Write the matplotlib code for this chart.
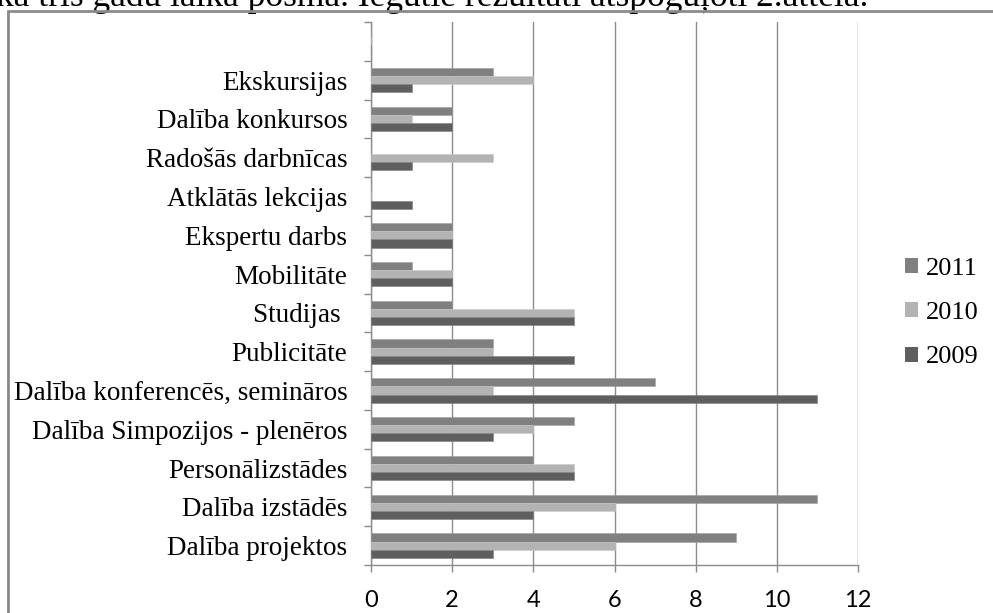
import numpy as np
import matplotlib
matplotlib.use('Agg')
import matplotlib.pyplot as plt
from matplotlib.patches import Rectangle, Patch

# data, listed top to bottom as in the chart (first slot is empty)
categories = ['', 'Ekskursijas', 'Dalība konkursos', 'Radošās darbnīcas', 'Atklātās lekcijas',
              'Ekspertu darbs', 'Mobilitāte', 'Studijas ', 'Publicitāte',
              'Dalība konferencēs, semināros', 'Dalība Simpozijos - plenēros',
              'Personālizstādes', 'Dalība izstādēs', 'Dalība projektos']
v2011 = [0, 3, 2, 0, 0, 2, 1, 2, 3, 7, 5, 4, 11, 9]
v2010 = [0, 4, 1, 3, 0, 2, 2, 5, 3, 3, 4, 5, 6, 6]
v2009 = [0, 1, 2, 1, 1, 2, 2, 5, 5, 11, 3, 5, 4, 3]
years = ['2011', '2010', '2009']
x_ticks = [0, 2, 4, 6, 8, 10, 12]

COLORS = {'2011': '#808080', '2010': '#b3b3b3', '2009': '#5f5f5f'}
GRID = '#8c8c8c'
SERIF = 'Liberation Serif'

W, H = 993, 613
fig = plt.figure(figsize=(W / 100, H / 100), dpi=100)

# outer chart frame (cut by the image edge on right and bottom)
fig.patches.append(Rectangle((8 / W, -0.1), 1.2, 1 - 11 / H + 0.1, transform=fig.transFigure,
                             fill=False, edgecolor='#8a8a8a', linewidth=2))

# cut-off line of document text above the chart
fig.text(-4 / W, 1 - 6 / H, 'ka trīs gadu laika posmā. Iegūtie rezultāti atspoguļoti 2.attēlā.',
         family=SERIF, fontsize=25.5, ha='left', va='baseline', color='black', zorder=0)

ax = fig.add_axes([371 / W, 1 - 565 / H, (858 - 371) / W, (565 - 22) / H])

n = len(categories)
y = np.arange(n)[::-1]  # top category gets the highest position
h = 0.21
ax.barh(y + h, v2011, height=h, color=COLORS['2011'], edgecolor='#a0a0a0', linewidth=0.4, zorder=3)
ax.barh(y, v2010, height=h, color=COLORS['2010'], edgecolor='#c8c8c8', linewidth=0.4, zorder=3)
ax.barh(y - h, v2009, height=h, color=COLORS['2009'], edgecolor='#808080', linewidth=0.4, zorder=3)

ax.set_xlim(0, 12)
ax.set_ylim(-0.5, n - 0.5)
ax.set_xticks(x_ticks)
ax.set_xticklabels([str(t) for t in x_ticks], family='Lato', fontsize=17)
ax.xaxis.grid(True, color=GRID, linewidth=1)
ax.set_axisbelow(True)

# category boundary ticks + labels at the centres
ax.set_yticks(np.arange(n + 1) - 0.5)
ax.set_yticklabels([])
ax.set_yticks(y, minor=True)
ax.set_yticklabels(categories, minor=True, family=SERIF, fontsize=19.5)
ax.tick_params(axis='y', which='minor', length=0, pad=17)
ax.tick_params(axis='y', which='major', length=5, color=GRID, width=1)
ax.tick_params(axis='x', length=5, color=GRID, width=1, pad=13)

for side in ['top', 'right']:
    ax.spines[side].set_visible(False)
for side in ['left', 'bottom']:
    ax.spines[side].set_color(GRID)
    ax.spines[side].set_linewidth(1)

handles = [Patch(facecolor=COLORS[yr], edgecolor='none') for yr in years]
fig.legend(handles, years, loc='center left', bbox_to_anchor=(905 / W, 1 - 313 / H),
           frameon=False, prop={'family': SERIF, 'size': 19}, borderpad=0, borderaxespad=0,
           handlelength=0.5, handleheight=0.5, handletextpad=0.3, labelspacing=0.85)

fig.savefig('out.png', dpi=100)
